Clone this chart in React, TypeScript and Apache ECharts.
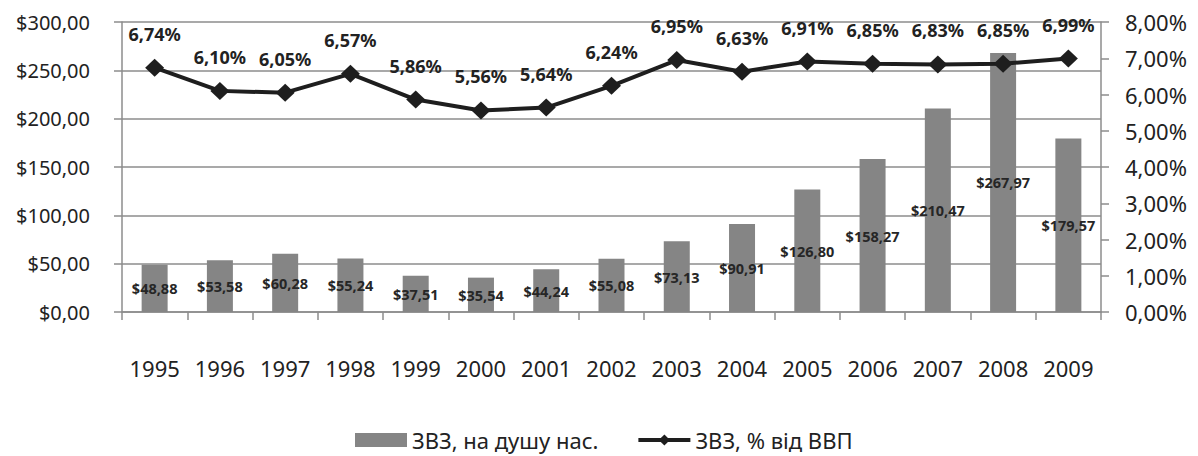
import React, { useEffect, useRef } from "react";
import * as echarts from "echarts";

const years = ["1995", "1996", "1997", "1998", "1999", "2000", "2001", "2002", "2003", "2004", "2005", "2006", "2007", "2008", "2009"];
const perCapita = [48.88, 53.58, 60.28, 55.24, 37.51, 35.54, 44.24, 55.08, 73.13, 90.91, 126.8, 158.27, 210.47, 267.97, 179.57];
const shareGdp = [6.74, 6.1, 6.05, 6.57, 5.86, 5.56, 5.64, 6.24, 6.95, 6.63, 6.91, 6.85, 6.83, 6.85, 6.99];
const barName = "ЗВЗ, на душу нас.";
const lineName = "ЗВЗ, % від ВВП";

const FONT = "'Noto Sans', 'DejaVu Sans', sans-serif";
const AXIS_GREY = "#8c8c8c";
const LINE_BLACK = "#1e1e1e";
const comma = (v: number) => v.toFixed(2).replace(".", ",");

export default function App() {
  const ref = useRef<HTMLDivElement>(null);
  useEffect(() => {
    if (!ref.current) return;
    const chart = echarts.init(ref.current, undefined, { renderer: "svg" });
    chart.setOption({
      animation: false,
      backgroundColor: "#fff",
      textStyle: { fontFamily: FONT },
      grid: { left: 122, right: 97, top: 22, bottom: 144, containLabel: false },
      legend: {
        bottom: 0,
        left: 350,
        itemGap: 38,
        itemWidth: 52,
        itemHeight: 14,
        textStyle: { fontSize: 22, color: "#222", fontFamily: FONT },
        data: [
          { name: barName, icon: "rect" },
          { name: lineName, lineStyle: { width: 4, color: LINE_BLACK }, itemStyle: { color: LINE_BLACK } },
        ],
      },
      xAxis: {
        type: "category",
        data: years,
        axisLine: { lineStyle: { color: AXIS_GREY, width: 1.5 } },
        axisTick: { show: true, alignWithLabel: false, length: 8, lineStyle: { color: AXIS_GREY, width: 1.5 } },
        axisLabel: { interval: 0, hideOverlap: false, fontSize: 22, color: "#222", margin: 45, fontFamily: FONT },
      },
      yAxis: [
        {
          type: "value",
          min: 0,
          max: 300,
          interval: 50,
          position: "left",
          axisLine: { show: true, lineStyle: { color: AXIS_GREY, width: 1.5 } },
          axisTick: { show: true, length: 8, lineStyle: { color: AXIS_GREY, width: 1.5 } },
          splitLine: { lineStyle: { color: AXIS_GREY, width: 1.5 } },
          axisLabel: { fontSize: 20, color: "#222", margin: 32, fontFamily: FONT, formatter: (v: number) => "$" + comma(v) },
        },
        {
          type: "value",
          min: 0,
          max: 8,
          interval: 1,
          position: "right",
          axisLine: { show: true, lineStyle: { color: AXIS_GREY, width: 1.5 } },
          axisTick: { show: true, length: 8, lineStyle: { color: AXIS_GREY, width: 1.5 } },
          splitLine: { show: false },
          axisLabel: { fontSize: 22, color: "#222", margin: 24, fontFamily: FONT, formatter: (v: number) => comma(v) + "%" },
        },
      ],
      series: [
        {
          name: barName,
          type: "bar",
          data: perCapita,
          yAxisIndex: 0,
          barWidth: 26,
          itemStyle: { color: "#858585" },
          label: {
            show: true,
            position: "inside",
            color: "#262626",
            fontSize: 14.5,
            fontWeight: "bold",
            fontFamily: FONT,
            formatter: (p: any) => "$" + comma(p.value),
          },
        },
        {
          name: lineName,
          type: "line",
          data: shareGdp,
          yAxisIndex: 1,
          symbol: "diamond",
          symbolSize: [19, 18],
          lineStyle: { color: LINE_BLACK, width: 4 },
          itemStyle: { color: LINE_BLACK },
          z: 5,
          label: {
            show: true,
            position: "top",
            distance: 16,
            color: "#222",
            fontSize: 18,
            fontWeight: "bold",
            fontFamily: FONT,
            formatter: (p: any) => comma(p.value) + "%",
          },
        },
      ],
    });
    return () => chart.dispose();
  }, []);
  return <div ref={ref} style={{ width: 1198, height: 456, position: "absolute", left: 0, top: 0 }} />;
}
